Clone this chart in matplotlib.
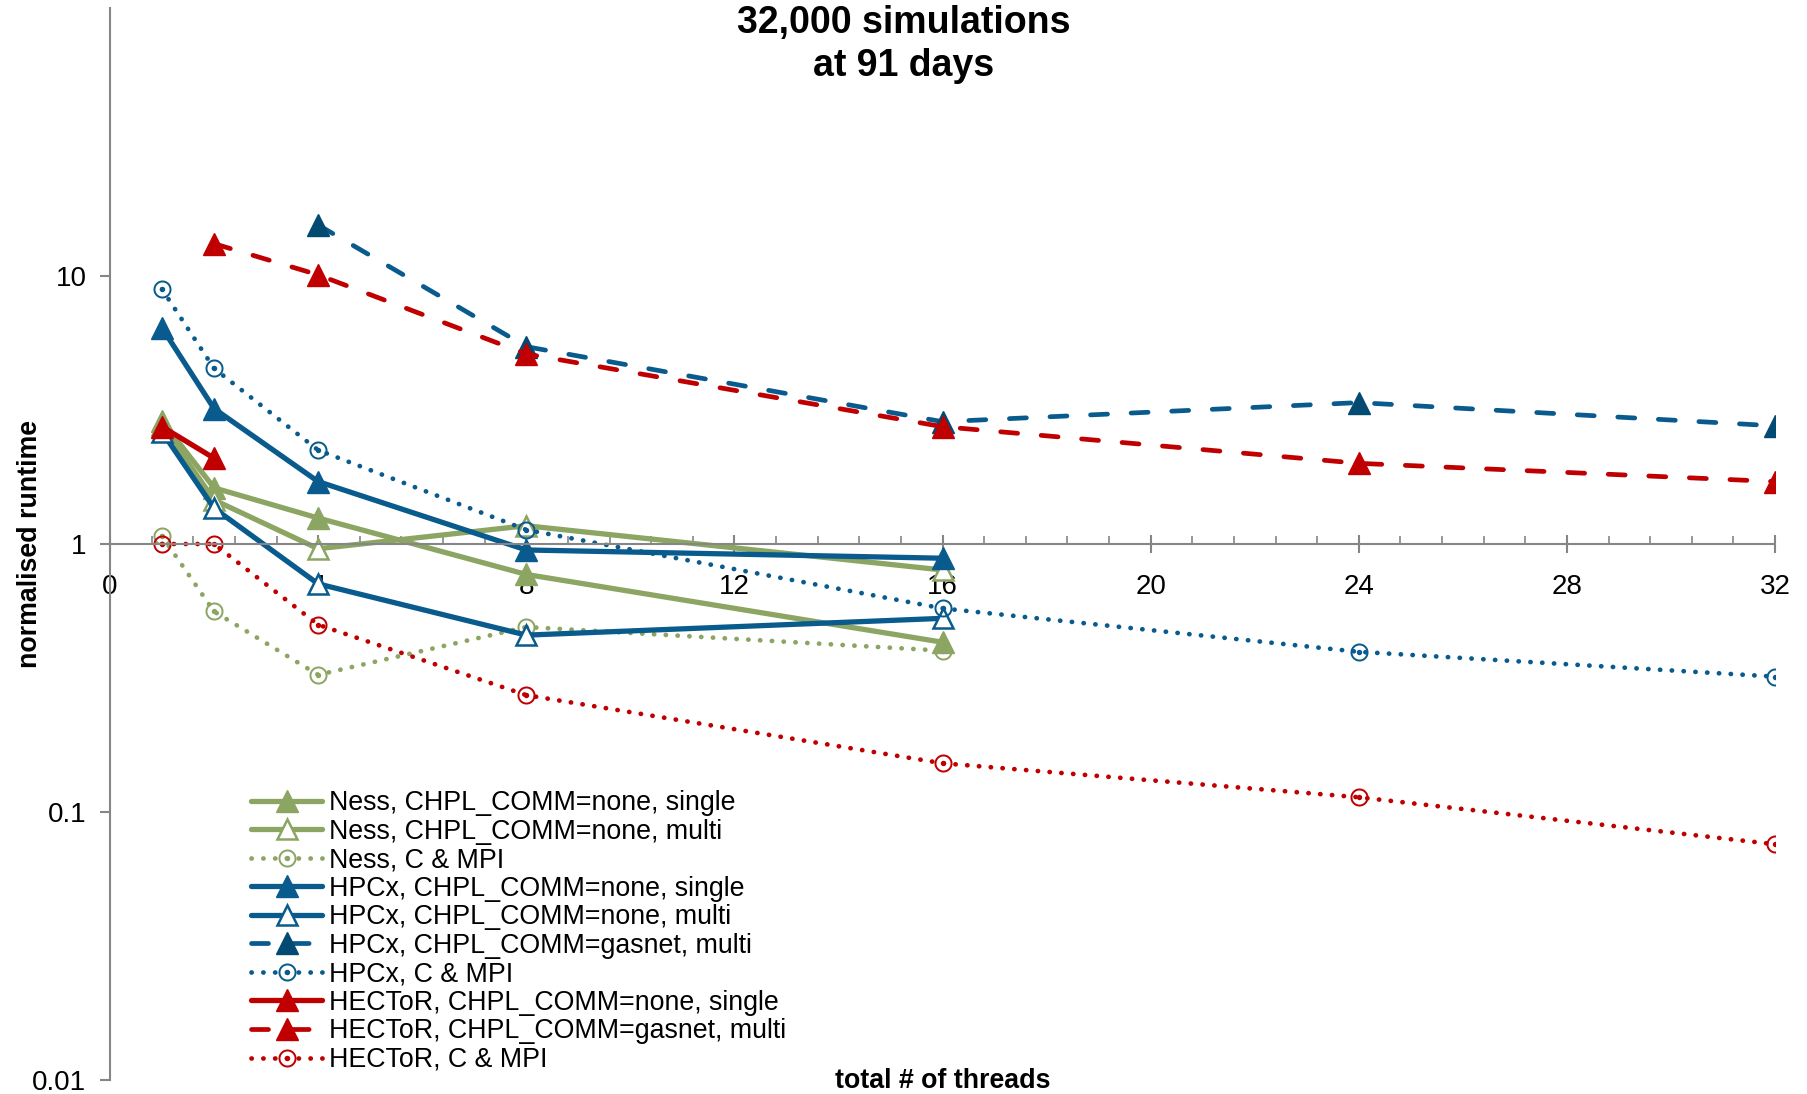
import numpy as np
import matplotlib
matplotlib.use("Agg")
import matplotlib.pyplot as plt
from matplotlib.path import Path
from matplotlib.ticker import FixedLocator, MultipleLocator, NullFormatter

plt.rcParams["font.family"] = ["Liberation Sans", "DejaVu Sans"]

# runtimes normalised to the single-thread C & MPI run on HECToR
x_short = [1, 2, 4, 8, 16]
x_gasnet_hpcx = [4, 8, 16, 24, 32]
x_gasnet_hector = [2, 4, 8, 16, 24, 32]
x_long = [1, 2, 4, 8, 16, 24, 32]
x_hector_single = [1, 2]

ness_single = [2.88, 1.62, 1.25, 0.77, 0.43]
ness_multi = [2.78, 1.46, 0.96, 1.17, 0.80]
ness_cmpi = [1.07, 0.56, 0.325, 0.49, 0.40]
hpcx_single = [6.4, 3.2, 1.71, 0.95, 0.885]
hpcx_multi = [2.62, 1.36, 0.71, 0.457, 0.528]
hpcx_gasnet = [15.5, 5.45, 2.86, 3.37, 2.76]
hpcx_cmpi = [8.92, 4.52, 2.24, 1.13, 0.575, 0.396, 0.32]
hector_single = [2.74, 2.09]
hector_gasnet = [13.2, 10.1, 5.12, 2.74, 2.0, 1.71]
hector_cmpi = [1.0, 1.0, 0.5, 0.273, 0.152, 0.1135, 0.0758]

GREEN = "#8CA562"
BLUE = "#0A5B8D"
NAVY = "#034A73"
RED = "#C00000"
AXIS = "#868686"


def ring_marker():
    # hollow circle with a dot in the middle
    t = np.linspace(0, 2 * np.pi, 61)
    outer = np.column_stack([np.cos(t), np.sin(t)])
    inner = np.column_stack([np.cos(t[::-1]), np.sin(t[::-1])]) * 0.78
    dot = np.column_stack([np.cos(t), np.sin(t)]) * 0.3
    paths = [Path(outer, closed=True), Path(inner, closed=True), Path(dot, closed=True)]
    return Path.make_compound_path(*paths)


RING = ring_marker()

fig = plt.figure(figsize=(18.07, 10.94), dpi=100)
ax = fig.add_axes([110 / 1807, 1 - 1080 / 1094, 1665 / 1807, 1072 / 1094])

solid = dict(lw=3.8, solid_capstyle="round", solid_joinstyle="round")
dashed = dict(lw=3.4, dashes=(3.6, 5.0), dash_capstyle="round")
dotted = dict(lw=3.4, dashes=(0.05, 2.45), dash_capstyle="round")

tri = 16
ring = 13

ax.plot(x_short, ness_single, color=GREEN, marker="^", ms=tri, mfc=GREEN, mec=GREEN,
        label="Ness, CHPL_COMM=none, single", **solid)
ax.plot(x_short, ness_multi, color=GREEN, marker="^", ms=tri - 1, mfc="white", mec=GREEN, mew=1.8,
        label="Ness, CHPL_COMM=none, multi", **solid)
ax.plot(x_short, ness_cmpi, color=GREEN, marker=RING, ms=ring, mfc=GREEN, mec=GREEN, mew=0,
        label="Ness, C & MPI", **dotted)
ax.plot(x_short, hpcx_single, color=BLUE, marker="^", ms=tri, mfc=BLUE, mec=BLUE,
        label="HPCx, CHPL_COMM=none, single", **solid)
ax.plot(x_short, hpcx_multi, color=BLUE, marker="^", ms=tri - 1, mfc="white", mec=BLUE, mew=1.8,
        label="HPCx, CHPL_COMM=none, multi", **solid)
ax.plot(x_gasnet_hpcx, hpcx_gasnet, color=BLUE, marker="^", ms=tri, mfc=NAVY, mec=NAVY,
        label="HPCx, CHPL_COMM=gasnet, multi", **dashed)
ax.plot(x_long, hpcx_cmpi, color=BLUE, marker=RING, ms=ring, mfc=BLUE, mec=BLUE, mew=0,
        label="HPCx, C & MPI", **dotted)
ax.plot(x_hector_single, hector_single, color=RED, marker="^", ms=tri, mfc=RED, mec=RED,
        label="HECToR, CHPL_COMM=none, single", **solid)
ax.plot(x_gasnet_hector, hector_gasnet, color=RED, marker="^", ms=tri, mfc=RED, mec=RED,
        label="HECToR, CHPL_COMM=gasnet, multi", **dashed)
ax.plot(x_long, hector_cmpi, color=RED, marker=RING, ms=ring, mfc=RED, mec=RED, mew=0,
        label="HECToR, C & MPI", **dotted)

ax.set_yscale("log")
ax.set_ylim(0.01, 100)
ax.set_xlim(0, 32)

# x axis crosses at runtime 1
ax.spines["bottom"].set_position(("data", 1))
ax.spines["top"].set_visible(False)
ax.spines["right"].set_visible(False)
for s in ("left", "bottom"):
    ax.spines[s].set_color(AXIS)
    ax.spines[s].set_linewidth(1.5)

ax.xaxis.set_major_locator(MultipleLocator(4))
ax.xaxis.set_minor_locator(MultipleLocator(0.8))
ax.xaxis.set_minor_formatter(NullFormatter())
ax.tick_params(axis="x", which="major", direction="inout", length=13, width=1.5,
               color=AXIS, labelsize=20, pad=15)
ax.tick_params(axis="x", which="minor", direction="in", length=6, width=1.2, color=AXIS)

ax.yaxis.set_major_locator(FixedLocator([0.01, 0.1, 1, 10]))
ax.yaxis.set_minor_locator(FixedLocator([]))
ax.set_yticklabels(["0.01", "0.1", "1", "10"])
ax.tick_params(axis="y", which="major", direction="out", length=7, width=1.5,
               color=AXIS, labelsize=20, pad=10)

ax.set_ylabel("normalised runtime", fontsize=19.3, fontweight="bold")
ax.yaxis.set_label_coords(-0.04, 0.5)
ax.set_xlabel("total # of threads", fontsize=19.3, fontweight="bold")
ax.xaxis.set_label_coords(0.5, 0.0112)

fig.text(0.5003, 0.9593, "32,000 simulations\nat 91 days", ha="center", va="center",
         fontsize=27, fontweight="bold", linespacing=1.24)

leg = ax.legend(loc="upper left", bbox_to_anchor=(251 / 1807, 1 - 790 / 1094),
                bbox_transform=fig.transFigure, frameon=False, fontsize=19.3,
                handlelength=2.65, handletextpad=0.25, labelspacing=0.095,
                borderpad=0, borderaxespad=0, markerscale=1.0)

fig.savefig("out.png", dpi=100)
